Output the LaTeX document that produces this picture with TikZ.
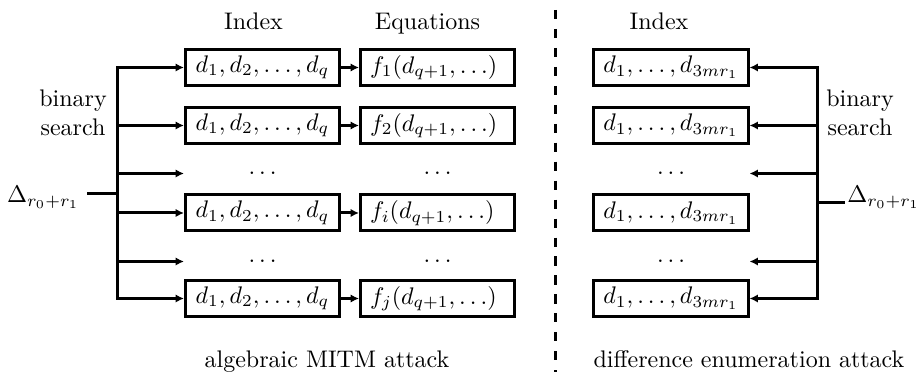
\documentclass[tikz,border=0pt]{standalone}
\usetikzlibrary{arrows.meta}
\begin{document}
\begin{tikzpicture}[x=0.416667pt,y=-0.416667pt,
  lw/.style={line width=1.25pt},
  idxbox/.style={draw,lw,minimum width=64.2pt,minimum height=15pt,inner sep=0pt},
  eqbox/.style={draw,lw,text width=56.25pt,align=left,inner xsep=3.96pt,inner ysep=0pt,minimum height=15pt},
  dotsbox/.style={minimum width=64.2pt,minimum height=15pt,inner sep=0pt,outer sep=0.625pt},
  arr/.style={lw,-{Latex[length=3.5pt,width=3.5pt]}},
  lbl/.style={anchor=base,inner sep=0pt},
  side/.style={align=center,inner sep=0pt}
]
\useasboundingbox (0,0) rectangle (917,372);

% left index boxes
\node[idxbox] (a1) at (262.5,67.5) {$d_1, d_2, \dots, d_q$};
\node[idxbox] (a2) at (262.5,125.5) {$d_1, d_2, \dots, d_q$};
\node[dotsbox] (ad1) at (262.5,173.5) {$\dots$\hspace{4.5pt}};
\node[idxbox] (a4) at (262.5,213) {$d_1, d_2, \dots, d_q$};
\node[dotsbox] (ad2) at (262.5,261.5) {$\dots$\hspace{4.5pt}};
\node[idxbox] (a6) at (262.5,298.5) {$d_1, d_2, \dots, d_q$};

% equation boxes
\node[eqbox] (e1) at (437.5,67.5) {$f_1(d_{q+1}, \dots)$};
\node[eqbox] (e2) at (437.5,125.5) {$f_2(d_{q+1}, \dots)$};
\node[dotsbox] (ed1) at (437.5,173.5) {$\dots$\hspace{9pt}};
\node[eqbox] (e4) at (437.5,213) {$f_i(d_{q+1}, \dots)$};
\node[dotsbox] (ed2) at (437.5,261.5) {$\dots$\hspace{9pt}};
\node[eqbox] (e6) at (437.5,298.5) {$f_j(d_{q+1}, \dots)$};

% right index boxes
\node[idxbox] (r1) at (671,67.5) {$d_1, \dots, d_{3mr_1}$};
\node[idxbox] (r2) at (671,125.5) {$d_1, \dots, d_{3mr_1}$};
\node[dotsbox] (rd1) at (671,173.5) {$\dots$\hspace{4.5pt}};
\node[idxbox] (r4) at (671,213) {$d_1, \dots, d_{3mr_1}$};
\node[dotsbox] (rd2) at (671,261.5) {$\dots$\hspace{4.5pt}};
\node[idxbox] (r6) at (671,298.5) {$d_1, \dots, d_{3mr_1}$};

% headings
\node[lbl] (h1) at (253.5,30) {Index};
\node[lbl] (h2) at (427.5,30) {Equations};
\node[lbl] (h3) at (659,30) {Index};
\node[lbl] (c1) at (327,368) {algebraic MITM attack};
\node[lbl] (c2) at (749,368) {difference enumeration attack};

% side labels
\node[side] (bl) at (73,113) {binary\\search};
\node[side] (br) at (860,113) {binary\\search};
\node[anchor=base east,inner xsep=2.92pt,inner ysep=0pt] (dl) at (87,203) {$\Delta_{r_0+r_1}$};
\node[anchor=base west,inner xsep=0.8pt,inner ysep=0pt] (dr) at (845,203) {$\Delta_{r_0+r_1}$};

% left tree
\coordinate (lx) at (117,0);
\coordinate (lj) at (117,194);
\draw[lw,line cap=rect] (a1.west -| lx) -- (a6.west -| lx);
\foreach \n in {a1,a2,ad1,a4,ad2,a6} \draw[arr] (\n.west -| lx) -- (\n.west);
\draw[lw] (dl.east |- lj) -- (lj);

% index to equations
\foreach \i in {1,2,4,6} \draw[arr] (a\i.east) -- (e\i.west);

% right tree
\coordinate (rx) at (817,0);
\coordinate (rj) at (817,203);
\draw[lw,line cap=rect] (r1.east -| rx) -- (r6.east -| rx);
\foreach \n in {r1,r2,rd1,rd2,r6} \draw[arr] (\n.east -| rx) -- (\n.east);
\draw[lw] (rj) -- (dr.west |- rj);

% separator
\coordinate (st) at (555,10);
\coordinate (sb) at (555,372);
\draw[lw,dash pattern=on 3.8pt off 4.1pt] (st) -- (sb);
\end{tikzpicture}
\end{document}
